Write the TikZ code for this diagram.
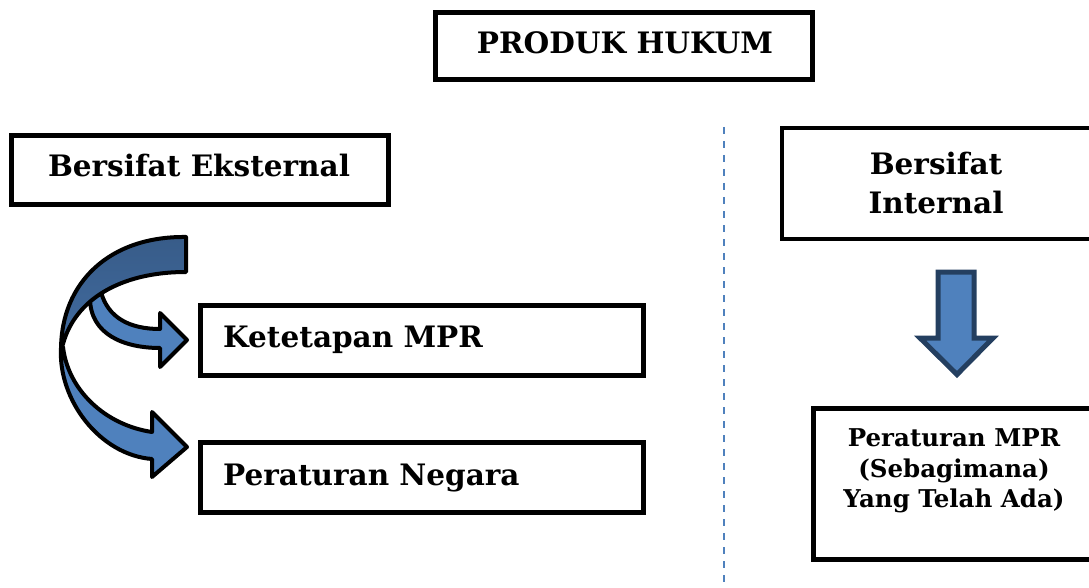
\documentclass[tikz,border=0pt]{standalone}
\usepackage{fontspec}
\setmainfont{DejaVu Serif}
\definecolor{ablue}{HTML}{4F81BD}
\definecolor{adark}{HTML}{3F689B}
\definecolor{anavy}{HTML}{243F60}
\begin{document}
\begin{tikzpicture}[x=1pt,y=-1pt,
  box/.style={draw=black, line width=4.5pt, inner sep=0pt, fill=white},
  bigtxt/.style={font=\fontsize{29.5}{35}\selectfont\bfseries, inner sep=0pt, anchor=base},
  smalltxt/.style={font=\fontsize{24.5}{29}\selectfont\bfseries, inner sep=0pt, anchor=base},
  band/.style={draw=black, line width=4pt, line join=round},
  downarrow/.style={draw=anavy, fill=ablue, line width=5pt, line join=miter},
  divider/.style={draw=ablue, line width=2pt, dash pattern=on 7pt off 7pt}
]
\clip (0,0) rectangle (1089,588);
\useasboundingbox (0,0) rectangle (1089,588);

% boxes
\node (produk) [box, minimum width=377pt, minimum height=67pt] at (624,46) {};
\node (eks) [box, minimum width=377pt, minimum height=69pt] at (200,170) {};
\node (int) [box, minimum width=312pt, minimum height=111pt] at (938,183.5) {};
\node (ket) [box, minimum width=443pt, minimum height=70pt] at (422,340.5) {};
\node (neg) [box, minimum width=443pt, minimum height=70pt] at (422,477.5) {};
\node (mpr) [box, minimum width=281pt, minimum height=151pt] at (954,484) {};

% texts
\node (produkT) [bigtxt] at (625,54) {PRODUK HUKUM};
\node (eksT) [bigtxt] at (199,177) {Bersifat Eksternal};
\node (intT1) [bigtxt] at (936,175) {Bersifat};
\node (intT2) [bigtxt] at (936,213) {Internal};
\node (ketT) [bigtxt, anchor=base west] at (223,347) {Ketetapan MPR};
\node (negT) [bigtxt, anchor=base west] at (223,485) {Peraturan Negara};
\node (mprT1) [smalltxt] at (954,446.5) {Peraturan MPR};
\node (mprT2) [smalltxt] at (954,477) {(Sebagimana)};
\node (mprT3) [smalltxt] at (954,507) {Yang Telah Ada)};

% dashed divider
\coordinate (dtop) at (724,127);
\coordinate (dbot) at (724,584);
\draw[divider] (dtop) -- (dbot);

% down arrow
\draw[downarrow] (938,272) -- (974,272) -- (974,338) -- (993,338) -- (957,374.5)
  -- (920,338) -- (938,338) -- cycle;

% small curved arrow (to Ketetapan MPR)
\draw[band, fill=ablue] (90,298) .. controls (90,335) and (125,348) .. (160,348)
  -- (160,367) -- (187,340) -- (160,313) -- (160,329)
  .. controls (130,329) and (108,318) .. (101,292) -- cycle;

% large curved arrow front (to Peraturan Negara)
\draw[band, fill=ablue] (61,348) .. controls (58,400) and (100,455) .. (152,459)
  -- (152,477) -- (187,447) -- (152,412) -- (152,432)
  .. controls (105,425) and (68,390) .. (63,347) -- cycle;

% large curved arrow back band
\draw[band, top color=adark!88!black, bottom color=adark!85!ablue] (186,237)
  .. controls (110,236) and (61,282) .. (61,350)
  .. controls (62,347) and (62,345) .. (63,344)
  .. controls (75,300) and (120,272) .. (186,272) -- cycle;
\end{tikzpicture}
\end{document}
